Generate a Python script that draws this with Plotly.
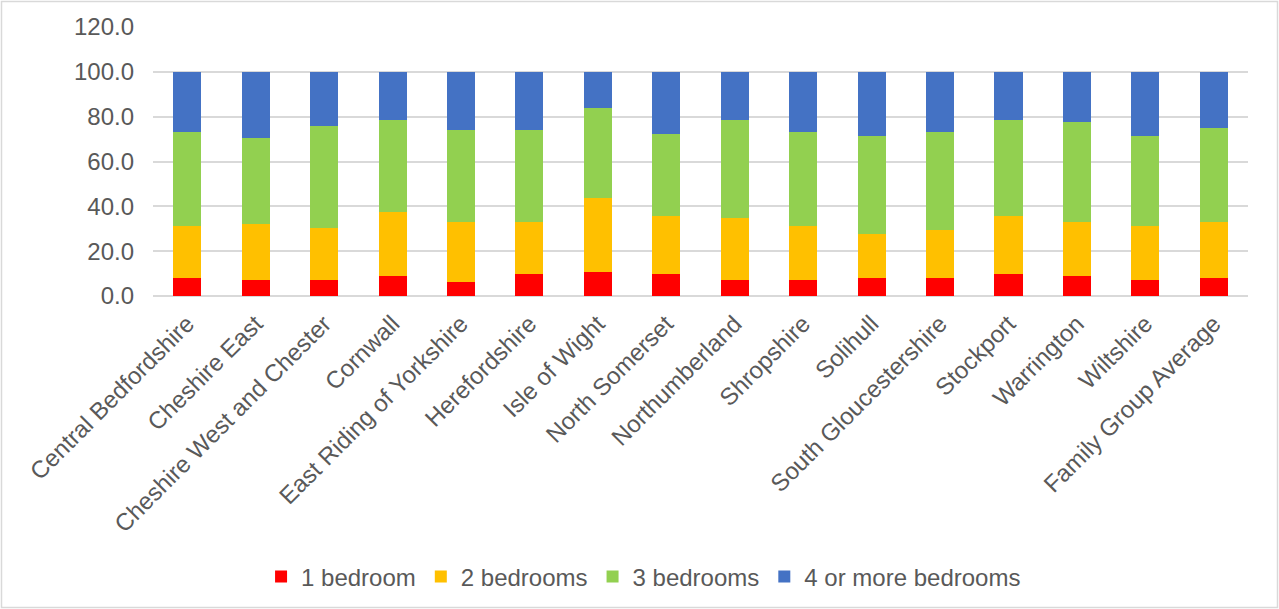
import plotly.graph_objects as go

areas = ["Central Bedfordshire", "Cheshire East", "Cheshire West and Chester", "Cornwall",
         "East Riding of Yorkshire", "Herefordshire", "Isle of Wight", "North Somerset",
         "Northumberland", "Shropshire", "Solihull", "South Gloucestershire", "Stockport",
         "Warrington", "Wiltshire", "Family Group Average"]

bed1 = [7.9, 7.0, 7.0, 8.8, 6.1, 9.7, 10.6, 9.7, 7.0, 7.0, 7.9, 7.9, 9.7, 8.8, 7.0, 7.9]
bed2 = [23.2, 25.0, 23.2, 28.6, 26.8, 23.2, 33.0, 25.9, 27.7, 24.1, 19.6, 21.4, 25.9, 24.1, 24.1, 25.0]
bed3 = [42.0, 38.4, 45.5, 41.0, 41.1, 41.1, 40.2, 36.6, 43.7, 42.0, 43.8, 43.8, 42.8, 44.6, 40.2, 42.0]
bed4 = [26.9, 29.6, 24.3, 21.6, 26.0, 26.0, 16.2, 27.8, 21.6, 26.9, 28.7, 26.9, 21.6, 22.5, 28.7, 25.1]

series = [("1 bedroom", bed1, "#FF0000"),
          ("2 bedrooms", bed2, "#FFC000"),
          ("3 bedrooms", bed3, "#92D050"),
          ("4 or more bedrooms", bed4, "#4472C4")]

FONT = "Liberation Sans, Arial, sans-serif"
GREY = "#595959"
FS = 24

fig = go.Figure()
for name, vals, col in series:
    fig.add_trace(go.Bar(x=areas, y=vals, name=name, marker_color=col,
                         marker_line_width=0))

W, H = 1279, 609
ml, mr, mt, mb = 153, 31, 27, 313
pw, ph = W - ml - mr, H - mt - mb

fig.update_layout(
    width=W, height=H,
    barmode="stack", bargap=0.59,
    margin=dict(l=ml, r=mr, t=mt, b=mb, autoexpand=False),
    paper_bgcolor="white", plot_bgcolor="white",
    font=dict(family=FONT, size=FS, color=GREY),
    legend=dict(orientation="h", x=0.448, xanchor="center",
                y=(296 - 577) / ph, yanchor="middle",
                font=dict(family=FONT, size=FS, color=GREY),
                traceorder="normal", itemwidth=30),
    xaxis=dict(tickangle=-45, showgrid=False, showline=False, ticks="",
               automargin=False, ticklabelstandoff=8,
               tickfont=dict(size=FS, color=GREY)),
    yaxis=dict(range=[0, 120], dtick=20, tickformat=".1f",
               gridcolor="#D9D9D9", gridwidth=1.5,
               zeroline=True, zerolinecolor="#D9D9D9", zerolinewidth=1.5,
               showline=False, ticks="", automargin=False,
               ticklabelstandoff=18,
               tickfont=dict(size=FS, color=GREY)),
    shapes=[dict(type="rect", xref="paper", yref="paper",
                 x0=(1.5 - ml) / pw, x1=(1277.5 - ml) / pw,
                 y0=(H - mb - 607.5) / ph, y1=(H - mb - 1.5) / ph,
                 line=dict(color="#D9D9D9", width=1.5), layer="below")],
)

fig.write_html("out.html")
